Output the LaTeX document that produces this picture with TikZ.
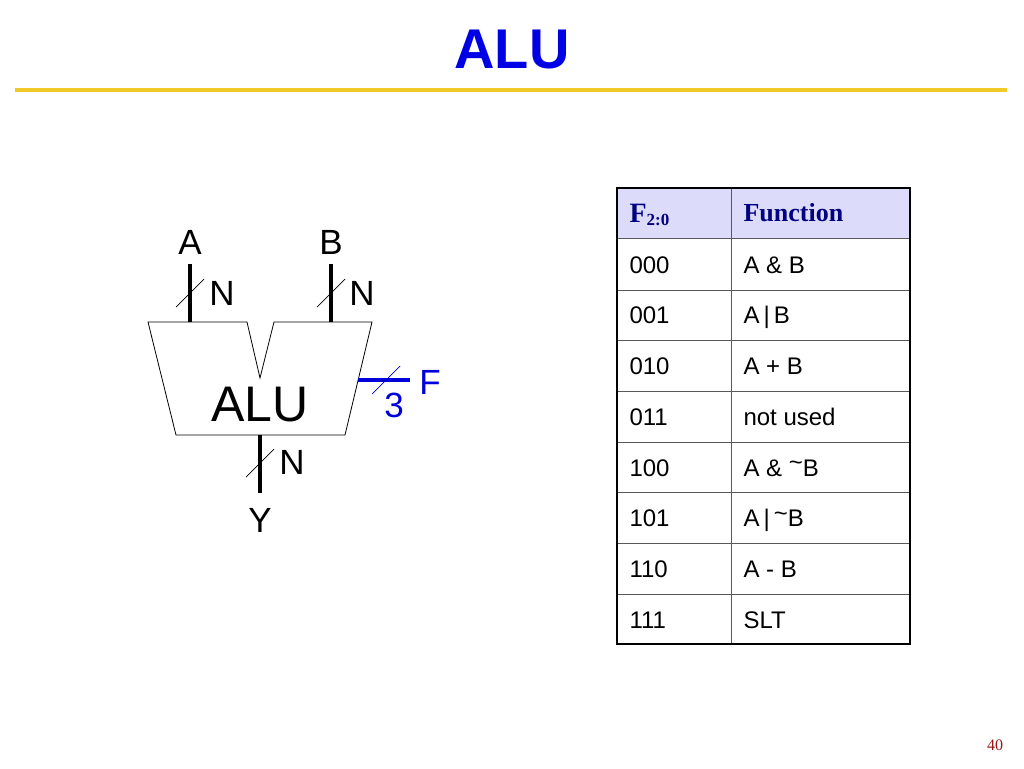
\documentclass[tikz,border=0pt]{standalone}
\usepackage{fontspec}
\setmainfont{Liberation Sans}
\newfontfamily\serif{Liberation Serif}
\newcommand{\hitilde}{\raisebox{0.45ex}{\textasciitilde}}
\begin{document}
\begin{tikzpicture}[x=1pt,y=-1pt,
  bus/.style={line width=4pt},
  tick/.style={line width=0.7pt},
  lbl/.style={font=\fontsize{35}{35}\selectfont},
  cell/.style={font=\fontsize{24}{24}\selectfont,anchor=base west}]
\useasboundingbox (0,0) rectangle (1024,768);
\node[text=blue!90!black,font=\fontsize{56}{56}\selectfont\bfseries] (title) at (512,50) {ALU};
\draw[line width=4pt,color={rgb,255:red,240;green,200;blue,40}] (15,90) -- (1007,90);
\node[text={rgb,255:red,150;green,20;blue,20},font=\serif\fontsize{16}{16}\selectfont] (pg) at (995,745) {40};
% ALU
\draw[line width=0.8pt] (148,322) -- (247,322) -- (260,378) -- (274,322) -- (372,322) -- (345,435) -- (176,435) -- cycle;
\node[font=\fontsize{50}{50}\selectfont] (alu) at (260,405) {ALU};
\coordinate (a1) at (190,264); \coordinate (a2) at (190,322);
\coordinate (b1) at (331,264); \coordinate (b2) at (331,322);
\coordinate (y1) at (260,435); \coordinate (y2) at (260,493);
\draw[bus] (a1) -- (a2); \draw[bus] (b1) -- (b2); \draw[bus] (y1) -- (y2);
\draw[tick] (176,307) -- (204,279);
\draw[tick] (317,307) -- (345,279);
\draw[tick] (246,477) -- (274,449);
\node[lbl] (la) at (190,242) {A};
\node[lbl] (lb) at (331,242) {B};
\node[lbl] (ly) at (260,520) {Y};
\node[lbl] (n1) at (222,293) {N};
\node[lbl] (n2) at (362,293) {N};
\node[lbl] (n3) at (292,462) {N};
\coordinate (f1) at (358,380); \coordinate (f2) at (410,380);
\draw[line width=4pt,blue!85!black] (f1) -- (f2);
\draw[tick,blue!85!black] (372,394) -- (400,366);
\node[lbl,text=blue!85!black] (lf) at (430,382) {F};
\node[lbl,text=blue!85!black] (l3) at (394,405) {3};
% table
\fill[color={rgb,255:red,220;green,220;blue,250}] (617,188) rectangle (910,238);
\foreach \y in {238,290,340,391,442,492,543,594} \draw[gray!70!black,line width=0.8pt] (617,\y) -- (910,\y);
\draw[gray!70!black,line width=0.8pt] (731,188) -- (731,644);
\draw[line width=2.5pt] (617,188) rectangle (910,644);
\node[anchor=base west,text=blue!50!black,font=\serif\bfseries\fontsize{28}{28}\selectfont] (h1) at (626,222) {F\textsubscript{\fontsize{17}{17}\selectfont 2:0}};
\node[anchor=base west,text=blue!50!black,font=\serif\bfseries\fontsize{26}{26}\selectfont] (h2) at (740,221) {Function};
\foreach \c/\f [count=\i from 0] in {000/{A \& B},001/{A\,|\,B},010/{A + B},011/{not used},100/{A \& \hitilde B},101/{A\,|\,\hitilde B},110/{A - B},111/SLT}{
  \node[cell] (c\i) at (626,{273+50.75*\i}) {\c};
  \node[cell] (f\i) at (740,{273+50.75*\i}) {\f};
}
\end{tikzpicture}
\end{document}
